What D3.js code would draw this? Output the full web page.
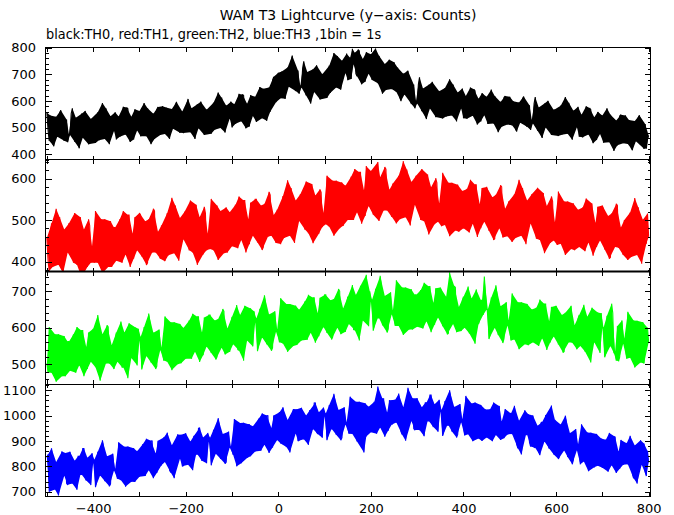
<!DOCTYPE html>
<html><head><meta charset="utf-8">
<script src="https://cdn.jsdelivr.net/npm/d3@7"></script>
<style>
html,body{margin:0;padding:0;background:#fff;}
svg{display:block;}
text{font-family:"DejaVu Sans",sans-serif;fill:#000;}
</style></head>
<body><div id="chart"></div>
<script>
// ---- data: one value every 2.5 s (counts), read/estimated from the light curves ----
const binStart = -500;
const binWidth = 2.5;
const th0 = [
555,490,450,545,525,440,430,520,540,465,480,555,565,505,460,450,510,530,445,475,
472,552,572,487,447,537,522,437,422,512,552,462,477,562,542,482,437,457,532,527,
522,467,442,522,557,452,477,547,592,487,457,572,537,477,437,542,532,502,487,557,
455,535,541,465,487,520,578,485,474,575,570,470,446,540,527,455,568,555,489,505,
562,467,497,557,592,502,467,572,547,482,437,532,552,457,507,567,577,507,472,552,
580,520,476,575,552,470,458,550,569,495,510,585,596,535,492,480,543,560,479,505,
507,587,607,522,482,572,557,472,457,547,587,497,512,597,577,517,472,492,567,562,
555,507,477,562,593,492,515,587,631,527,498,612,579,517,481,582,577,542,534,597,
500,584,587,514,534,569,626,534,523,624,620,519,497,589,579,504,621,604,543,554,
615,521,553,615,652,566,535,645,625,565,525,625,650,559,613,677,690,625,595,678,
705,645,610,710,695,614,608,702,725,653,670,745,770,694,648,637,695,714,627,656,
650,723,748,658,620,708,692,608,590,683,718,633,643,733,709,653,605,628,700,698,
685,633,611,694,732,630,658,731,779,677,650,768,736,679,642,750,743,716,704,777,
677,752,762,682,795,737,780,702,692,792,787,687,662,757,742,672,782,772,702,722,
775,678,705,763,796,704,666,769,742,675,627,720,738,641,688,746,754,682,644,722,
745,677,633,725,701,613,599,686,702,624,635,707,713,650,601,588,644,661,572,599,
590,661,688,596,561,646,634,546,532,621,660,571,583,671,646,591,539,566,632,636,
615,556,534,611,648,541,567,636,681,576,545,661,624,566,523,631,617,591,571,646,
535,603,618,533,562,588,650,553,544,643,637,538,511,608,589,523,628,623,546,573,
615,513,548,603,642,548,515,618,594,528,482,578,596,503,549,613,618,553,511,598,
615,543,508,598,582,493,485,573,594,518,532,608,616,558,509,503,558,583,491,528,
515,590,614,525,488,575,562,475,461,550,590,500,514,600,578,520,472,495,566,565,
550,488,468,543,582,473,500,568,614,508,477,593,556,498,454,563,548,523,501,578,
465,533,548,463,492,518,580,483,474,573,567,468,441,538,519,453,558,553,476,503,
545,443,478,533,572,478,445,548,524,458,412,508,526,433,479,543,548,483,441,528,
545,473,438,528,512,423,415,503,524,448,462,538,546,488,439,433,420,513,421,458,
470];
const th1 = [
457,402,377,457,492,387,412,482,527,422,392,507,472,412,372,477,467,437,422,492,
487,467,422,397,517,452,392,417,472,507,362,402,477,472,432,387,502,487,397,437,
422,397,522,487,397,432,472,502,372,412,502,462,427,387,492,497,387,437,482,482,
402,447,487,502,432,397,522,477,417,422,512,512,387,462,467,407,507,487,427,432,
517,512,412,447,487,497,392,397,502,472,442,422,527,522,422,442,472,417,407,487,
480,430,401,485,517,415,438,510,554,450,420,535,501,440,402,505,498,465,454,520,
517,497,452,427,547,482,422,447,502,537,392,432,507,502,462,417,532,517,427,467,
450,430,551,520,427,465,503,535,404,445,522,495,461,420,527,530,422,470,519,515,
437,482,522,537,467,432,557,512,452,457,547,547,422,497,502,442,542,522,462,467,
550,550,446,485,522,535,428,435,539,510,480,460,568,560,462,480,512,455,445,525,
520,472,442,527,558,457,482,552,596,492,462,577,544,482,445,547,537,507,498,562,
560,547,497,477,593,532,468,497,547,587,444,482,559,552,512,467,574,567,483,517,
505,490,607,580,484,525,562,595,462,505,595,555,522,480,589,590,486,530,583,575,
500,550,586,605,532,500,623,580,519,525,615,615,491,565,572,510,630,590,534,535,
618,613,513,548,588,598,640,498,603,573,543,523,628,623,523,543,573,518,508,588,
572,517,492,572,607,502,527,597,642,537,507,622,587,527,487,592,582,552,537,607,
595,570,529,500,623,555,497,520,576,610,465,505,579,575,528,490,601,590,496,540,
515,485,614,575,488,520,562,590,461,500,590,550,514,475,578,585,472,525,566,570,
480,520,564,575,508,470,597,550,491,495,585,585,459,535,538,480,577,560,496,505,
580,570,474,505,547,555,452,455,561,530,500,480,584,580,458,500,527,475,461,545,
527,472,447,527,562,457,482,552,597,492,462,577,542,482,442,547,537,507,492,562,
550,525,484,455,578,510,452,475,531,565,420,460,534,530,488,445,557,545,451,495,
470,440,569,530,443,475,517,545,416,455,545,505,469,430,533,540,427,480,521,525,
435,475,519,530,463,425,552,505,446,450,535,540,414,490,493,435,532,515,451,460,
535,525,429,460,503,510,407,410,516,485,455,435,539,535,433,455,482,430,416,500,
485,426,404,481,518,411,437,506,553,446,416,531,496,436,395,501,489,461,443,516,
460];
const th2 = [
502,477,602,567,477,512,552,582,452,492,582,542,507,467,572,577,467,517,562,562,
482,527,567,582,512,477,602,557,497,502,592,592,467,542,547,487,587,567,507,512,
597,592,492,527,635,577,455,477,582,552,522,502,607,602,502,522,552,497,487,567,
587,507,522,562,617,492,492,587,572,527,462,612,577,517,532,582,602,542,497,597,
565,575,486,505,602,560,523,525,639,615,505,510,586,580,487,495,583,595,539,545,
530,510,631,600,507,545,583,615,484,525,615,575,541,500,607,610,503,550,599,595,
515,565,601,620,547,515,638,595,534,540,630,630,506,580,587,525,628,605,549,550,
635,635,531,570,607,620,513,520,624,595,565,545,651,645,527,565,598,540,534,610,
630,555,566,610,662,540,538,635,619,575,510,660,626,565,572,630,653,590,549,645,
615,625,536,555,652,610,573,575,689,665,555,560,636,630,537,545,633,645,589,595,
580,560,681,650,557,595,633,665,534,575,665,625,591,550,657,660,553,600,649,645,
565,617,652,672,598,567,690,647,586,592,682,682,559,632,640,577,682,657,603,602,
690,690,586,625,662,675,568,575,679,650,620,600,706,700,582,620,653,595,589,665,
685,610,621,665,717,595,594,690,674,630,565,715,676,620,632,685,745,645,604,700,
672,677,592,607,707,662,627,627,742,717,607,612,687,682,587,597,682,697,637,647,
630,605,730,695,605,640,680,710,580,620,710,670,635,595,700,705,595,645,690,690,
603,648,688,703,633,598,723,678,618,623,713,713,588,663,668,608,708,688,628,633,
710,700,604,635,678,685,582,585,752,660,630,610,714,710,588,630,657,605,591,675,
685,600,619,655,713,585,587,680,667,620,556,705,670,610,622,675,675,635,740,690,
650,650,569,580,683,635,602,600,716,690,580,585,659,655,558,570,652,670,606,620,
595,565,694,655,568,600,642,670,541,580,670,630,594,555,658,665,552,605,646,650,
560,600,644,655,588,550,677,630,571,575,665,665,539,615,618,560,657,640,576,585,
660,650,554,585,628,635,532,535,641,610,580,560,644,660,559,580,607,555,541,625,
635,550,569,605,663,535,537,630,616,570,505,655,619,560,573,625,642,585,531,640,
600,600,519,530,633,585,552,550,666,640,530,535,510,605,508,520,602,620,556,570,
545,515,644,605,518,550,592,620,491,530,619,580,545,505,608,615,502,555,596,600,
560];
const th3 = [
835,847,700,769,871,829,721,709,817,799,685,739,823,859,769,763,853,733,727,817,
858,744,732,810,822,726,708,840,840,768,768,870,870,756,744,834,804,786,726,852,
813,826,718,742,858,808,764,766,903,874,742,748,840,832,721,730,837,850,784,790,
774,751,895,859,745,793,826,877,720,769,878,829,789,739,868,871,738,799,860,853,
759,822,863,888,799,762,909,858,785,792,901,900,753,840,851,774,901,870,807,804,
893,914,817,836,933,896,785,776,883,866,753,806,893,926,841,830,925,800,803,884,
931,824,806,890,898,806,785,920,918,848,848,950,952,836,822,914,882,866,812,932,
898,913,804,829,944,895,850,853,990,961,830,835,928,919,810,817,926,937,874,877,
864,845,987,953,800,887,931,971,812,863,972,923,885,833,964,965,840,893,958,947,
859,922,963,988,899,862,1009,958,885,892,1001,1000,853,940,951,874,1001,970,907,904,
993,1014,890,936,1033,996,915,876,983,966,855,906,993,1026,941,930,1025,900,903,984,
1031,924,907,990,1001,906,885,1020,1019,948,947,1050,1051,936,928,1014,989,966,913,1032,
998,1009,903,925,1042,991,948,949,1086,1057,925,931,1022,1015,903,913,1018,1033,965,973,
954,929,1075,1037,928,971,1019,1055,898,947,1055,1007,966,917,855,1049,918,977,1035,1031,
935,989,1037,1055,971,929,1115,1025,953,959,1067,1067,917,1007,1013,941,1061,1037,965,971,
1051,1063,973,985,1087,1045,937,925,1033,1015,901,955,1110,1075,985,979,1069,949,943,1033,
1069,955,943,1021,1033,937,919,1051,1051,979,979,1081,1081,967,955,1045,1015,997,937,1063,
1016,1022,920,938,1058,1004,962,962,1100,1070,938,944,1034,1028,914,926,1028,1046,974,986,
959,922,1078,1030,927,964,1015,1048,899,940,1052,1000,956,910,1032,1042,900,970,1018,1024,
914,959,1014,1025,946,899,1052,995,924,929,1036,1037,904,977,974,911,1026,1007,926,941,
1008,1009,928,931,1039,991,887,871,980,961,847,901,981,1021,925,925,1006,895,878,979,
1001,876,873,942,960,858,844,972,975,900,898,1002,1000,888,870,966,1040,918,847,984,
928,923,829,839,965,905,866,863,1000,971,837,845,931,929,808,827,921,947,864,887,
849,808,966,916,819,850,901,934,781,826,933,886,870,796,913,928,802,856,899,910,
794,839,894,905,826,779,932,875,804,809,916,917,774,857,858,791,904,887,806,821,
888,891,808,813,921,873,769,753,882,843,732,783,862,903,806,807,890,777,762,861,
815];
const seriesNames = ["TH0","TH1","TH2","TH3"];
const seriesColors = ["#000000","#ff0000","#00ff00","#0000ff"];
const yDomains = [[380,800],[376,646],[446,754],[683,1125]];
const yTickLabels = [[400,500,600,700,800],[400,500,600],[500,600,700],[700,800,900,1000,1100]];
const xDomain = [-503, 804];
const xTickLabels = [-400,-200,0,200,400,600,800];
const xTicks = [-500,-400,-300,-200,-100,0,100,200,300,400,500,600,700,800];
const titleText = "WAM T3 Lightcurve (y\u2212axis: Counts)";
const subtitleText = "black:TH0, red:TH1, green:TH2, blue:TH3 ,1bin = 1s";

// ---- layout ----
const W = 674, H = 515;
const left = 45.5, right = 650.5;
const tops = [47.5, 159.5, 271.5, 384];
const bottoms = [159.5, 271.5, 384, 496];

const svg = d3.select("#chart").append("svg").attr("width", W).attr("height", H);
const x = d3.scaleLinear().domain(xDomain).range([left, right]);

svg.append("text").attr("x", (left+right)/2).attr("y", 20)
  .attr("text-anchor","middle").style("font-size","14px").text(titleText);
svg.append("text").attr("transform", `translate(46,39) scale(0.92,1)`)
  .style("font-size","14px").text(subtitleText);

const allSeries = [th0, th1, th2, th3];
allSeries.forEach((vals, i) => {
  const y = d3.scaleLinear().domain(yDomains[i]).range([bottoms[i], tops[i]]);
  const clipId = "clip" + i;
  svg.append("clipPath").attr("id", clipId).append("rect")
    .attr("x", left).attr("y", tops[i]).attr("width", right-left).attr("height", bottoms[i]-tops[i]);
  const pts = vals.map((v, j) => ({t: binStart + j*binWidth, v: v}));
  const n = pts.length;
  // filled band between the local maxima and local minima of the curve (the dense noise core)
  const upper = pts.filter((p, j) => (j === 0 || p.v >= pts[j-1].v) && (j === n-1 || p.v >= pts[j+1].v));
  const lower = pts.filter((p, j) => (j === 0 || p.v <= pts[j-1].v) && (j === n-1 || p.v <= pts[j+1].v));
  const line = d3.line().x(p => x(p.t)).y(p => y(p.v));
  const gData = svg.append("g").attr("clip-path", `url(#${clipId})`);
  gData.append("path").attr("d", line(upper.concat(lower.slice().reverse())) + "Z")
    .attr("fill", seriesColors[i]).attr("stroke", "none");
  gData.append("path").datum(pts).attr("d", line).attr("fill","none")
    .attr("stroke", seriesColors[i]).attr("stroke-width", 1.1)
    .attr("stroke-linejoin","miter").attr("stroke-miterlimit", 1.5);

  const g = svg.append("g").attr("shape-rendering","crispEdges");
  const lo = yDomains[i][0], hi = yDomains[i][1];
  const minor = d3.range(Math.ceil(lo/20)*20, hi+0.01, 20).filter(v => v % 100 !== 0);
  const major = d3.range(Math.ceil(lo/100)*100, hi+0.01, 100);
  const styleAxis = sel => { sel.select(".domain").remove(); sel.selectAll("line").attr("stroke","#000"); };
  g.append("g").attr("transform",`translate(${left},0)`)
    .call(d3.axisLeft(y).tickValues(minor).tickSize(-3).tickFormat("")).call(styleAxis);
  g.append("g").attr("transform",`translate(${left},0)`)
    .call(d3.axisLeft(y).tickValues(major).tickSize(-6).tickFormat("")).call(styleAxis);
  g.append("g").attr("transform",`translate(${right},0)`)
    .call(d3.axisRight(y).tickValues(minor).tickSize(-3).tickFormat("")).call(styleAxis);
  g.append("g").attr("transform",`translate(${right},0)`)
    .call(d3.axisRight(y).tickValues(major).tickSize(-6).tickFormat("")).call(styleAxis);
  const lab = svg.append("g").attr("transform",`translate(${left},0)`)
    .call(d3.axisLeft(y).tickValues(yTickLabels[i]).tickSize(0).tickPadding(9.5).tickFormat(d3.format("d")));
  lab.select(".domain").remove();
  lab.selectAll("text").style("font-size","13px").style("font-family","'DejaVu Sans',sans-serif").attr("fill","#000");
  g.append("g").attr("transform",`translate(0,${bottoms[i]})`)
    .call(d3.axisBottom(x).tickValues(xTicks).tickSize(-4).tickFormat("")).call(styleAxis);
  g.append("g").attr("transform",`translate(0,${tops[i]})`)
    .call(d3.axisTop(x).tickValues(xTicks).tickSize(-4).tickFormat("")).call(styleAxis);
  g.append("rect").attr("x", left).attr("y", tops[i]).attr("width", right-left).attr("height", bottoms[i]-tops[i])
    .attr("fill","none").attr("stroke","#000").attr("stroke-width",1);
});
svg.append("line").attr("x1",left).attr("x2",right).attr("y1",271.5).attr("y2",271.5)
  .attr("stroke","#000").attr("stroke-width",2.2);

const xl = svg.append("g").attr("transform",`translate(0,${bottoms[3]})`)
  .call(d3.axisBottom(x).tickValues(xTickLabels).tickSize(0).tickPadding(7.3));
xl.select(".domain").remove();
xl.selectAll("text").style("font-size","13px").style("font-family","'DejaVu Sans',sans-serif").attr("fill","#000");
</script></body></html>
